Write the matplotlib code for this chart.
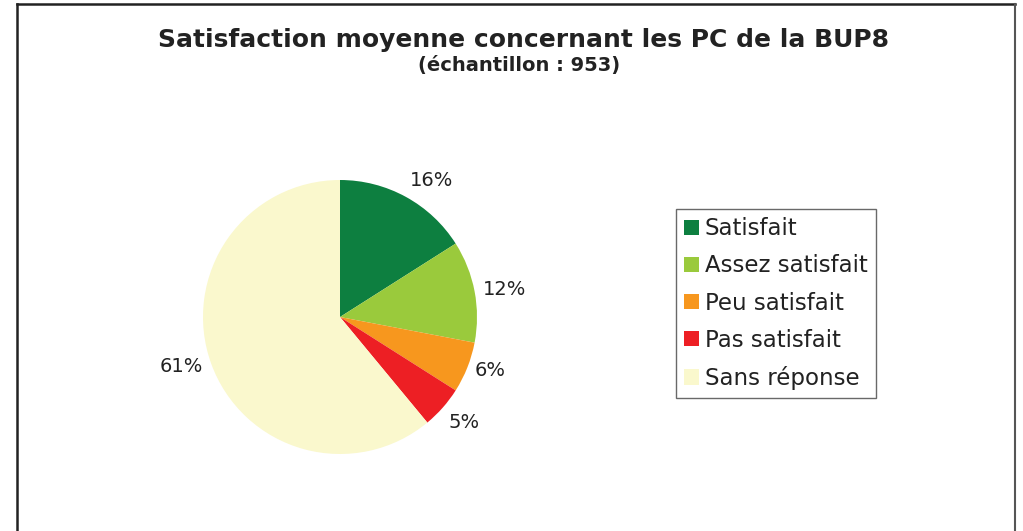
import matplotlib
matplotlib.use("Agg")
import matplotlib.pyplot as plt
from matplotlib.patches import Rectangle
import numpy as np

# Data
categories = ["Satisfait", "Assez satisfait", "Peu satisfait", "Pas satisfait", "Sans réponse"]
values = [16, 12, 6, 5, 61]
colors = ["#0d7f40", "#9aca3c", "#f7971e", "#ed1f24", "#faf8cd"]

title = "Satisfaction moyenne concernant les PC de la BUP8"
subtitle = "(échantillon : 953)"

W, H = 1023, 531
fig = plt.figure(figsize=(W / 100, H / 100), dpi=100)
fig.patch.set_facecolor("white")

# outer frame (open at the bottom, as in the reference)
fig.add_artist(plt.Line2D([17 / W, 17 / W], [0, 1 - 4 / H], transform=fig.transFigure,
                          color="#222222", lw=1.8))
fig.add_artist(plt.Line2D([17 / W, 1015 / W], [1 - 4 / H, 1 - 4 / H], transform=fig.transFigure,
                          color="#222222", lw=1.8))
fig.add_artist(plt.Line2D([1015 / W, 1015 / W], [0, 1 - 4 / H], transform=fig.transFigure,
                          color="#555555", lw=1.5))

fig.text(523 / W, 1 - 40 / H, title, ha="center", va="center",
         fontsize=18, fontweight="bold", color="#222222")
fig.text(519 / W, 1 - 66 / H, subtitle, ha="center", va="center",
         fontsize=14, fontweight="bold", color="#222222")

# pie: centre (340, 317) px, radius 137 px
r_px = 137
lim = 1.5
cx, cy = 340, H - 317
size = 2 * lim * r_px
ax = fig.add_axes([(cx - size / 2) / W, (cy - size / 2) / H, size / W, size / H])
wedges, texts = ax.pie(values, colors=colors, startangle=90, counterclock=False,
                       radius=1.0, wedgeprops=dict(linewidth=0))
# labels anchored just outside the rim, on the side facing the slice
for w, v in zip(wedges, values):
    ang = np.deg2rad((w.theta1 + w.theta2) / 2)
    x, y = np.cos(ang), np.sin(ang)
    ha = "left" if x > 0 else "right"
    va = "bottom" if y > 0.5 else ("top" if y < -0.5 else "center")
    ax.text(1.06 * x, 1.06 * y, f"{v}%", ha=ha, va=va,
            fontsize=14, color="#222222")
ax.set_xlim(-lim, lim)
ax.set_ylim(-lim, lim)
ax.set_aspect("equal")
ax.axis("off")

# legend
handles = [Rectangle((0, 0), 1, 1, facecolor=c, edgecolor="none") for c in colors]
leg = fig.legend(handles, categories, loc="upper left",
                 bbox_to_anchor=(676 / W, 1 - 209 / H), fontsize=16.5,
                 frameon=True, fancybox=False, edgecolor="#444444",
                 handlelength=0.64, handleheight=0.64, handletextpad=0.25,
                 labelspacing=0.62, borderpad=0.36, borderaxespad=0)
leg.get_frame().set_linewidth(1.0)
for t in leg.get_texts():
    t.set_color("#222222")

fig.savefig("out.png", dpi=100)
